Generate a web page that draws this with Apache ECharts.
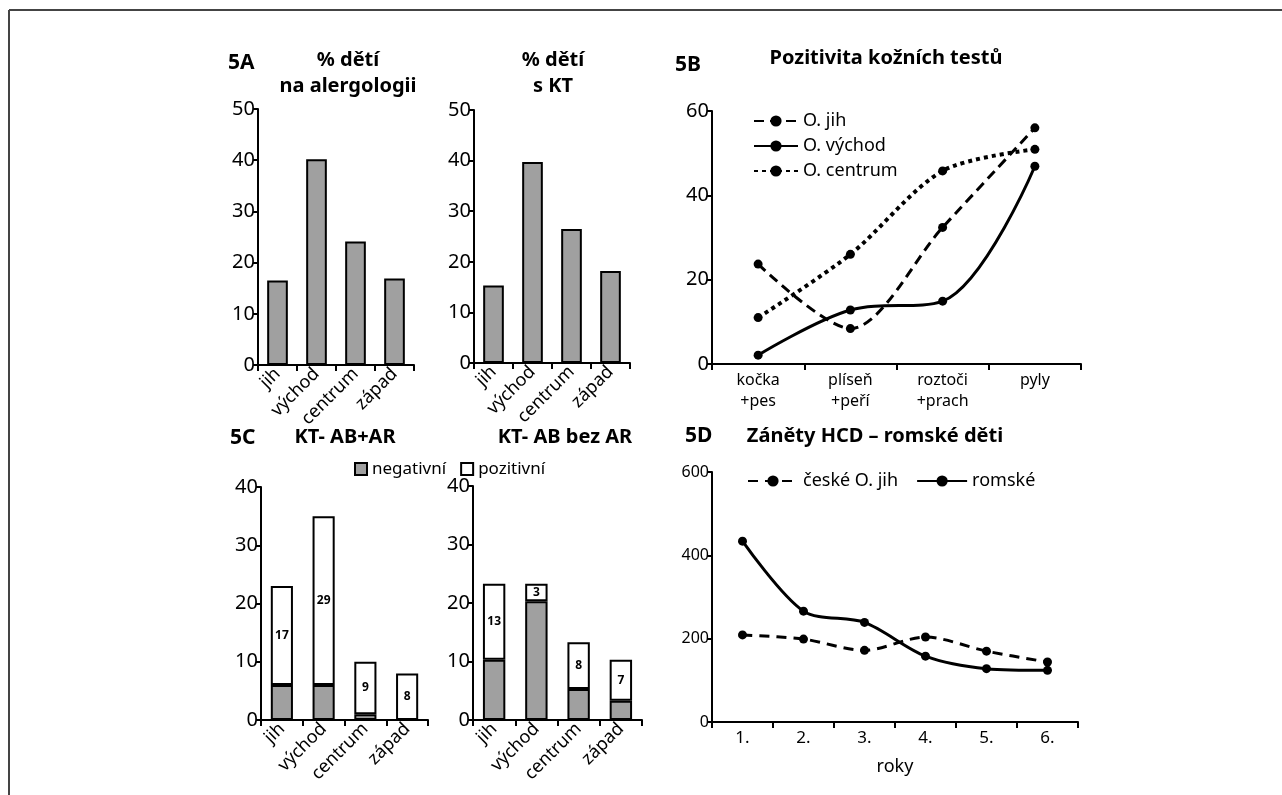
<!DOCTYPE html>
<html>
<head>
    <meta charset="UTF-8">
    <title></title>
    <script type="text/javascript" src="https://cdn.jsdelivr.net/npm/echarts@6/dist/echarts.min.js"></script>
    <style>
        body { margin: 0; background: #fff; }
    </style>
</head>
<body>
<div id="main" style="width: 1282px;height:795px;"></div>
<script type="text/javascript">
    // data
    var regions = ['jih', 'východ', 'centrum', 'západ'];
    var alergologie = [16.5, 40.2, 24.1, 16.9];
    var sKT = [15.3, 39.7, 26.5, 18.2];

    var alergeny = ['kočka\n+pes', 'plíseň\n+peří', 'roztoči\n+prach', 'pyly'];
    var oJih = [23.7, 8.4, 32.4, 56.0];
    var oVychod = [2.1, 12.8, 14.9, 46.9];
    var oCentrum = [11.0, 26.0, 45.8, 50.9];

    var abArNeg = [6, 6, 1, 0];
    var abArPoz = [17, 29, 9, 8];
    var abBezArNeg = [10.3, 20.3, 5.3, 3.3];
    var abBezArPoz = [13, 3, 8, 7];

    var roky = ['1.', '2.', '3.', '4.', '5.', '6.'];
    var ceskeJih = [209, 199, 172, 204, 170, 144];
    var romske = [434, 266, 239, 158, 128, 124];

    var FONT = 'Noto Sans';
    var myChart = echarts.init(document.getElementById('main'));

    // společné nastavení os
    function yAx(idx, max, interval, size) {
        return {
            type: 'value', gridIndex: idx, min: 0, max: max, interval: interval,
            splitLine: {show: false},
            axisLine: {show: true, lineStyle: {color: '#000', width: 2}},
            axisTick: {show: true, length: 5, lineStyle: {color: '#000', width: 2}},
            axisLabel: {color: '#000', fontSize: size, fontFamily: FONT, margin: 3}
        };
    }
    function xAx(idx, data, label) {
        return {
            type: 'category', gridIndex: idx, data: data,
            axisLine: {show: true, lineStyle: {color: '#000', width: 2}},
            axisTick: {show: true, length: 6, lineStyle: {color: '#000', width: 2}},
            axisLabel: Object.assign({color: '#000', fontFamily: FONT, interval: 0}, label)
        };
    }
    var rotLabel = {rotate: 45, fontSize: 18, margin: 6};

    var barStyle = {color: '#a0a0a0', borderColor: '#000', borderWidth: 2};
    var whiteStyle = {color: '#fff', borderColor: '#000', borderWidth: 2};
    var posLabel = {show: true, position: 'inside', color: '#000', fontWeight: 'bold', fontSize: 12, fontFamily: FONT};

    function txt(x, y, s, size, align, vAlign) {
        return {
            type: 'text', x: x, y: y,
            style: {
                text: s, font: 'bold ' + size + 'px "' + FONT + '"', fill: '#000',
                textAlign: align || 'left', align: align || 'left',
                textVerticalAlign: vAlign || 'middle', verticalAlign: vAlign || 'middle', lineHeight: 26
            }
        };
    }

    option = {
        animation: false,
        graphic: [
            {type: 'line', shape: {x1: 9, y1: 10, x2: 1282, y2: 10}, style: {stroke: '#444', lineWidth: 2}},
            {type: 'line', shape: {x1: 9, y1: 10, x2: 9, y2: 795}, style: {stroke: '#444', lineWidth: 2}},
            txt(228, 63, '5A', 21),
            txt(348, 47, '% dětí\nna alergologii', 20, 'center', 'top'),
            txt(553, 47, '% dětí\ns KT', 20, 'center', 'top'),
            txt(675, 65, '5B', 21),
            txt(886, 58, 'Pozitivita kožních testů', 20, 'center'),
            txt(230, 438, '5C', 21),
            txt(345, 437, 'KT- AB+AR', 20, 'center'),
            txt(565, 437, 'KT- AB bez AR', 20, 'center'),
            txt(685, 436, '5D', 21),
            txt(875, 436, 'Záněty HCD – romské děti', 20, 'center')
        ],
        legend: [
            {
                data: ['O. jih', 'O. východ', 'O. centrum'],
                orient: 'vertical', left: 748, top: 106, itemGap: 5,
                itemWidth: 44, itemHeight: 14,
                textStyle: {color: '#000', fontSize: 18, lineHeight: 20, fontFamily: FONT}
            },
            {
                data: ['negativní', 'pozitivní'],
                left: 349, top: 454, itemGap: 14,
                itemWidth: 12, itemHeight: 12, icon: 'rect',
                textStyle: {color: '#000', fontSize: 17, lineHeight: 20, fontFamily: FONT}
            },
            {
                data: ['české O. jih', 'romské'],
                left: 742, top: 466, itemGap: 18,
                itemWidth: 50, itemHeight: 14,
                textStyle: {color: '#000', fontSize: 18, lineHeight: 20, fontFamily: FONT}
            }
        ],
        grid: [
            {left: 258, top: 109, width: 156, height: 256},
            {left: 474, top: 110, width: 156, height: 253},
            {left: 712, top: 111, width: 369, height: 253},
            {left: 261, top: 487, width: 167, height: 233},
            {left: 473, top: 486, width: 169, height: 234},
            {left: 712, top: 472, width: 366, height: 250}
        ],
        xAxis: [
            xAx(0, regions, rotLabel),
            xAx(1, regions, rotLabel),
            xAx(2, alergeny, {fontSize: 16, margin: 6, lineHeight: 21}),
            xAx(3, regions, rotLabel),
            xAx(4, regions, rotLabel),
            Object.assign(xAx(5, roky, {fontSize: 17, margin: 8}), {
                name: 'roky', nameLocation: 'middle', nameGap: 36,
                nameTextStyle: {color: '#000', fontSize: 18, fontFamily: FONT}
            })
        ],
        yAxis: [
            yAx(0, 50, 10, 20),
            yAx(1, 50, 10, 20),
            yAx(2, 60, 20, 20),
            yAx(3, 40, 10, 20),
            yAx(4, 40, 10, 20),
            yAx(5, 600, 200, 16)
        ],
        series: [
            {name: 'alergologie', type: 'bar', xAxisIndex: 0, yAxisIndex: 0, data: alergologie, barWidth: '53%', itemStyle: barStyle},
            {name: 's KT', type: 'bar', xAxisIndex: 1, yAxisIndex: 1, data: sKT, barWidth: '53%', itemStyle: barStyle},

            {name: 'O. jih', type: 'line', xAxisIndex: 2, yAxisIndex: 2, data: oJih, smooth: 0.3,
                symbol: 'circle', symbolSize: 9, itemStyle: {color: '#000'},
                lineStyle: {color: '#000', width: 3, type: [10, 6]}},
            {name: 'O. východ', type: 'line', xAxisIndex: 2, yAxisIndex: 2, data: oVychod, smooth: 0.35,
                symbol: 'circle', symbolSize: 9, itemStyle: {color: '#000'},
                lineStyle: {color: '#000', width: 3}},
            {name: 'O. centrum', type: 'line', xAxisIndex: 2, yAxisIndex: 2, data: oCentrum, smooth: 0.3,
                symbol: 'circle', symbolSize: 9, itemStyle: {color: '#000'},
                lineStyle: {color: '#000', width: 4, type: [4, 4]}},

            {name: 'negativní', type: 'bar', stack: 'c1', xAxisIndex: 3, yAxisIndex: 3, data: abArNeg, barWidth: '53%', itemStyle: barStyle},
            {name: 'pozitivní', type: 'bar', stack: 'c1', xAxisIndex: 3, yAxisIndex: 3, data: abArPoz, barWidth: '53%', itemStyle: whiteStyle, label: posLabel},
            {name: 'negativní', type: 'bar', stack: 'c2', xAxisIndex: 4, yAxisIndex: 4, data: abBezArNeg, barWidth: '53%', itemStyle: barStyle},
            {name: 'pozitivní', type: 'bar', stack: 'c2', xAxisIndex: 4, yAxisIndex: 4, data: abBezArPoz, barWidth: '53%', itemStyle: whiteStyle, label: posLabel},

            {name: 'české O. jih', type: 'line', xAxisIndex: 5, yAxisIndex: 5, data: ceskeJih, smooth: 0.3,
                symbol: 'circle', symbolSize: 9, itemStyle: {color: '#000'},
                lineStyle: {color: '#000', width: 3, type: [10, 7]}},
            {name: 'romské', type: 'line', xAxisIndex: 5, yAxisIndex: 5, data: romske, smooth: 0.3,
                symbol: 'circle', symbolSize: 9, itemStyle: {color: '#000'},
                lineStyle: {color: '#000', width: 3}}
        ]
    };

    myChart.setOption(option);
</script>
</body>
</html>
